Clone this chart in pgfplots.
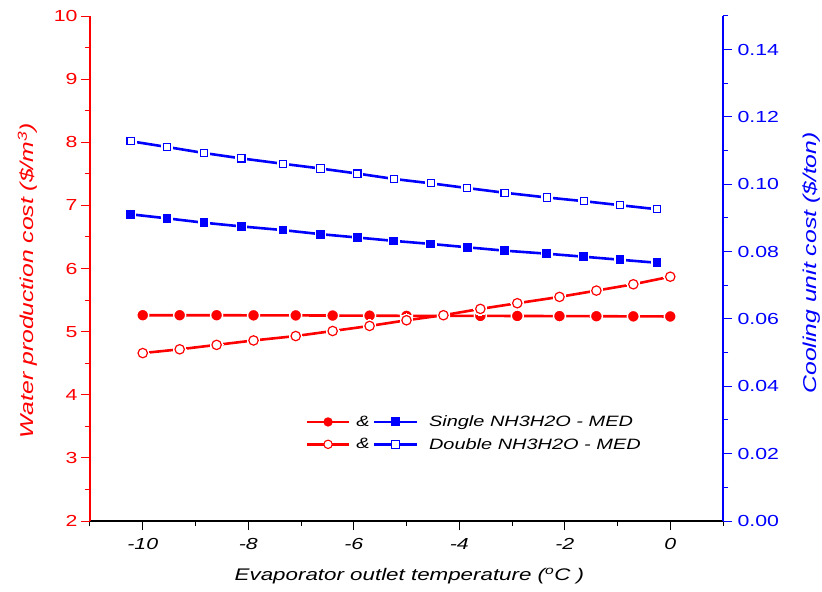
\documentclass[border=0pt]{standalone}
\usepackage{fontspec}
\setmainfont{Liberation Sans}[FakeStretch=1.33]
\usepackage{pgfplots}
\usepackage{pgfplotstable}
\pgfplotsset{compat=1.18}

\pgfplotstableread{
x y
-10.0 5.260
-9.3  5.260
-8.6  5.260
-7.9  5.258
-7.1  5.257
-6.4  5.255
-5.7  5.253
-5.0  5.250
-4.3  5.250
-3.6  5.249
-2.9  5.248
-2.1  5.246
-1.4  5.244
-0.7  5.242
0.0   5.240
}\redA

\pgfplotstableread{
x y
-10.0 4.66
-9.3  4.72
-8.6  4.79
-7.9  4.86
-7.1  4.93
-6.4  5.01
-5.7  5.09
-5.0  5.18
-4.3  5.26
-3.6  5.36
-2.9  5.45
-2.1  5.55
-1.4  5.65
-0.7  5.75
0.0   5.87
}\redB

\pgfplotstableread{
x y
-10.23 0.0911
-9.54  0.0899
-8.84  0.0886
-8.13  0.0875
-7.34  0.0864
-6.63  0.0852
-5.93  0.0842
-5.24  0.0832
-4.54  0.0823
-3.85  0.0813
-3.14  0.0803
-2.34  0.0794
-1.64  0.0785
-0.95  0.0776
-0.25  0.0767
}\blueA

\pgfplotstableread{
x y
-10.23 0.1128
-9.54  0.1111
-8.84  0.1093
-8.13  0.1077
-7.34  0.1061
-6.63  0.1047
-5.93  0.1032
-5.24  0.1016
-4.54  0.1003
-3.85  0.0989
-3.14  0.0975
-2.34  0.0961
-1.64  0.0950
-0.95  0.0938
-0.25  0.0926
}\blueB

\newcommand{\tickfont}{\fontsize{16bp}{18bp}\selectfont}
\newcommand{\xlabfont}{\fontsize{16.8bp}{19bp}\selectfont\itshape}
\newcommand{\ylabfont}{\fontsize{18.6bp}{21bp}\selectfont\itshape}
\newcommand{\legfont}{\fontsize{15bp}{17bp}\selectfont\itshape}

\begin{document}
\begin{tikzpicture}
\begin{axis}[
  scale only axis, width=633bp, height=505bp,
  xmin=-11, xmax=1, ymin=2, ymax=10,
  axis x line*=bottom, axis y line*=left,
  x axis line style={black, line width=1.2bp, -},
  y axis line style={red, line width=1.2bp, -},
  xtick={-10,-8,-6,-4,-2,0}, xticklabels={-10,-8,-6,-4,-2,0},
  minor xtick={-11,-9,-7,-5,-3,-1,1},
  ytick={2,3,4,5,6,7,8,9,10}, yticklabels={2,3,4,5,6,7,8,9,10},
  minor ytick={2.5,3.5,4.5,5.5,6.5,7.5,8.5,9.5},
  tick align=outside,
  major tick length=9bp, minor tick length=5bp,
  x tick style={black, line width=1bp},
  y tick style={red, line width=1bp},
  xticklabel style={font=\tickfont\itshape, black, yshift=-5bp},
  yticklabel style={font=\tickfont, red},
  xlabel={Evaporator outlet temperature (\textsuperscript{o}C )},
  every axis x label/.style={at={(axis description cs:0.5047,-0.1188)}, anchor=base, font=\xlabfont, black},
  ylabel={Water production cost (\$/m\textsuperscript{3})},
  every axis y label/.style={at={(axis description cs:-0.090,0.476)}, anchor=base, rotate=90, font=\ylabfont, red},
  clip=false,
  legend style={at={(axis description cs:0.341,0.174)}, anchor=west, draw=none, fill=none,
    inner sep=0pt, outer sep=0pt, row sep=10bp, font=\legfont,
    nodes={inner sep=0pt, outer sep=0pt}},
  legend cell align=left,
]
\addplot[forget plot, red, line width=2.6bp, mark=*, mark size=6bp,
  mark options={solid, fill=red, draw=white, line width=1.4bp}] table {\redA};
\addplot[forget plot, red, line width=2.6bp, mark=*, mark size=6.4bp,
  mark options={solid, fill=white, draw=white, line width=0pt}] table {\redB};
\addplot[forget plot, only marks, red, mark=*, mark size=4.7bp,
  mark options={solid, fill=white, draw=red, line width=1.2bp}] table {\redB};

\addlegendimage{legend image code/.code={
  \draw[red, line width=2.4bp] (0bp,0bp) -- (42bp,0bp);
  \fill[red, draw=none] (21bp,0bp) circle (4.7bp);
  \node[black, draw=none, fill=none, inner sep=0pt, anchor=center, font=\legfont] at (56bp,0bp) {\&};
  \draw[blue, line width=2.4bp] (67bp,0bp) -- (110bp,0bp);
  \fill[blue, draw=none] (84bp,-4.5bp) rectangle (93bp,4.5bp);
  \path[draw=none, fill=none] (0bp,0bp) -- (122bp,0bp);
}}
\addlegendentry{Single NH3H2O - MED}
\addlegendimage{legend image code/.code={
  \draw[red, line width=2.4bp] (0bp,0bp) -- (42bp,0bp);
  \filldraw[red, fill=white, line width=1.1bp] (21bp,0bp) circle (4.2bp);
  \node[black, draw=none, fill=none, inner sep=0pt, anchor=center, font=\legfont] at (56bp,0bp) {\&};
  \draw[blue, line width=2.4bp] (67bp,0bp) -- (110bp,0bp);
  \filldraw[blue, fill=white, line width=1.1bp] (84.5bp,-4bp) rectangle (92.5bp,4bp);
  \path[draw=none, fill=none] (0bp,0bp) -- (122bp,0bp);
}}
\addlegendentry{Double NH3H2O - MED}
\end{axis}

\begin{axis}[
  scale only axis, width=633bp, height=505bp,
  xmin=-11, xmax=1, ymin=0, ymax=0.15,
  axis x line=none, axis y line*=right,
  y axis line style={blue, line width=1.2bp, -},
  ytick={0,0.02,0.04,0.06,0.08,0.10,0.12,0.14},
  yticklabels={0.00,0.02,0.04,0.06,0.08,0.10,0.12,0.14},
  minor ytick={0.01,0.03,0.05,0.07,0.09,0.11,0.13,0.15},
  tick align=outside,
  major tick length=9bp, minor tick length=5bp,
  y tick style={blue, line width=1bp},
  yticklabel style={font=\tickfont, blue, xshift=2bp},
  ylabel={Cooling unit cost (\$/ton)},
  every axis y label/.style={at={(axis description cs:1.147,0.511)}, anchor=base, rotate=90, font=\ylabfont, blue},
  clip=false,
]
\addplot[forget plot, blue, line width=2.6bp, mark=square*, mark size=5.05bp,
  mark options={solid, fill=blue, draw=white, line width=1.4bp}] table {\blueA};
\addplot[forget plot, blue, line width=2.6bp, mark=square*, mark size=5.4bp,
  mark options={solid, fill=white, draw=white, line width=0pt}] table {\blueB};
\addplot[forget plot, only marks, blue, mark=square*, mark size=3.6bp,
  mark options={solid, fill=white, draw=blue, line width=1.1bp}] table {\blueB};
\end{axis}
\pgfresetboundingbox
\path (-90bp,-71bp) rectangle (732bp,521bp);
\end{tikzpicture}
\end{document}
